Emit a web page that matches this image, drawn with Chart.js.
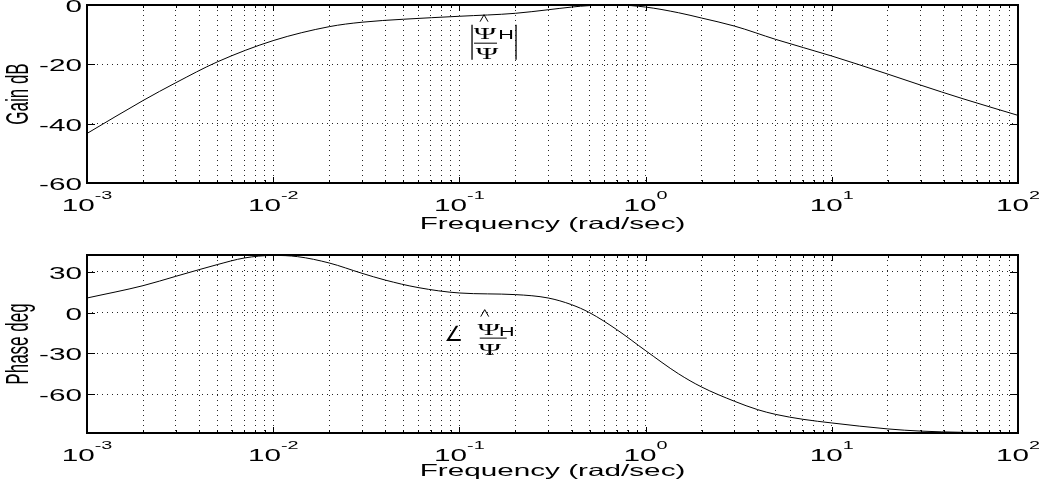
<!DOCTYPE html>
<html>
<head>
<meta charset="utf-8">
<script src="https://cdn.jsdelivr.net/npm/chart.js@4.4.1/dist/chart.umd.min.js"></script>
<style>
    html, body { margin: 0; padding: 0; background: #fff; }
    .plot { position: relative; width: 1042px; height: 243px; }
</style>
</head>
<body>
<div class="plot"><canvas id="gain"></canvas></div>
<div class="plot"><canvas id="phase"></canvas></div>
<script>
// values
var aGainFreq = [0.001, 0.002, 0.003, 0.005, 0.01, 0.02, 0.03, 0.05, 0.1, 0.2, 0.3, 0.4, 0.5, 0.7, 1.0, 1.5, 2, 3, 5, 10, 20, 30, 50, 100];
var aGainDb = [-43.3, -32.2, -26.2, -19.2, -12.0, -7.3, -5.8, -4.8, -3.8, -2.8, -1.6, -0.7, -0.2, 0, -0.7, -2.6, -4.4, -7.1, -11.6, -17.2, -23.3, -27.0, -31.5, -37.2];

var aPhaseFreq = [0.001, 0.002, 0.003, 0.004, 0.005, 0.007, 0.01, 0.0135, 0.02, 0.03, 0.04, 0.06, 0.1, 0.2, 0.3, 0.4, 0.5, 0.7, 1.0, 1.5, 2, 3, 4, 5, 7, 10, 20, 30, 50, 100];
var aPhaseDeg = [10.8, 19.9, 26.8, 31.7, 35.4, 40.3, 42.2, 41.3, 36.6, 29.0, 24.0, 18.5, 14.5, 13.3, 10.8, 5.9, 0, -12.5, -28.0, -45.0, -54.8, -65.3, -71.5, -75.0, -78.6, -81.3, -85.7, -87.3, -88.2, -88.6];

var aGainTicks = [-60, -40, -20, 0];
var aPhaseTicks = [-60, -30, 0, 30];
var aGainRange = [-60, 0];
var aPhaseRange = [-88.7, 42.5];
var aDecades = [-3, -2, -1, 0, 1, 2];
var aMantissas = [1, 2, 3, 4, 5, 6, 7, 8, 9];

var STRETCH = 1.8;
var FONT_SANS = '"Liberation Sans", Arial, sans-serif';
var FONT_SERIF = '"Liberation Serif", "DejaVu Serif", serif';

var oBode = {
    init: function () {
        oBode.drawPlot('gain', aGainFreq, aGainDb, aGainRange, aGainTicks, 5, 60, 'Gain dB', 'gain', 46);
        oBode.drawPlot('phase', aPhaseFreq, aPhaseDeg, aPhaseRange, aPhaseTicks, 12, 53, 'Phase deg', 'phase', 43);
    },

    freqTicks: function () {
        var aTicks = [];
        for (var i = 0; i < aDecades.length; i++) {
            var iMax = (i === aDecades.length - 1) ? 1 : aMantissas.length;
            for (var j = 0; j < iMax; j++) {
                aTicks.push({ value: aMantissas[j] * Math.pow(10, aDecades[i]) });
            }
        }
        return aTicks;
    },

    wideText: function (ctx, sText, x, y, fSize, sAlign, sFamily) {
        ctx.save();
        ctx.translate(x, y);
        ctx.scale(STRETCH, 1);
        ctx.font = fSize + 'px ' + (sFamily || FONT_SANS);
        ctx.textAlign = sAlign || 'left';
        ctx.textBaseline = 'alphabetic';
        ctx.fillStyle = '#000';
        ctx.fillText(sText, 0, 0);
        ctx.restore();
    },

    wideWidth: function (ctx, sText, fSize) {
        ctx.save();
        ctx.font = fSize + 'px ' + FONT_SANS;
        var w = ctx.measureText(sText).width * STRETCH;
        ctx.restore();
        return w;
    },

    line: function (ctx, aPts, fWidth) {
        ctx.beginPath();
        ctx.moveTo(aPts[0][0], aPts[0][1]);
        for (var i = 1; i < aPts.length; i++) {
            ctx.lineTo(aPts[i][0], aPts[i][1]);
        }
        ctx.lineWidth = fWidth || 1;
        ctx.strokeStyle = '#000';
        ctx.stroke();
    },

    // frame, inward ticks, tick labels, titles and the psi annotation
    decorPlugin: {
        id: 'decor',
        afterDraw: function (chart) {
            var ctx = chart.ctx;
            var area = chart.chartArea;
            var xs = chart.scales.x;
            var ys = chart.scales.y;
            var opts = chart.options.plugins.decor;
            var i, px, py;

            ctx.save();
            ctx.lineWidth = 2;
            ctx.strokeStyle = '#000';
            ctx.strokeRect(area.left, area.top, area.right - area.left, area.bottom - area.top);

            for (i = 0; i < xs.ticks.length; i++) {
                var v = xs.ticks[i].value;
                px = Math.round(xs.getPixelForValue(v)) + 0.5;
                var iLen = Math.abs(Math.log10(v) - Math.round(Math.log10(v))) < 1e-6 ? 6 : 3;
                oBode.line(ctx, [[px, area.bottom], [px, area.bottom - iLen]]);
                oBode.line(ctx, [[px, area.top], [px, area.top + iLen]]);
            }
            for (i = 0; i < ys.ticks.length; i++) {
                py = Math.round(ys.getPixelForValue(ys.ticks[i].value)) + 0.5;
                oBode.line(ctx, [[area.left, py], [area.left + 8, py]]);
                oBode.line(ctx, [[area.right, py], [area.right - 8, py]]);
                oBode.wideText(ctx, String(ys.ticks[i].value), area.left - 5, py + 6, 16.5, 'right');
            }

            for (i = 0; i < aDecades.length; i++) {
                px = xs.getPixelForValue(Math.pow(10, aDecades[i]));
                var sExp = String(aDecades[i]);
                var w10 = oBode.wideWidth(ctx, '10', 16.5);
                var wExp = oBode.wideWidth(ctx, sExp, 11);
                var x0 = px - (w10 + wExp) / 2;
                oBode.wideText(ctx, '10', x0, area.bottom + 28, 16.5);
                oBode.wideText(ctx, sExp, x0 + w10, area.bottom + 16, 11);
            }

            oBode.wideText(ctx, 'Frequency (rad/sec)', (area.left + area.right) / 2, area.bottom + opts.titleGap, 16.5, 'center');

            ctx.save();
            ctx.translate(20, (area.top + area.bottom) / 2);
            ctx.scale(STRETCH, 1);
            ctx.rotate(-Math.PI / 2);
            ctx.font = '17px ' + FONT_SANS;
            ctx.textAlign = 'center';
            ctx.textBaseline = 'middle';
            ctx.fillStyle = '#000';
            ctx.fillText(opts.yTitle, 0, 0);
            ctx.restore();

            var ax, ay;
            if (opts.note === 'gain') {
                ax = xs.getPixelForValue(0.139);
                ay = ys.getPixelForValue(-12.7);
                oBode.line(ctx, [[ax - 14, ay - 18], [ax - 14, ay + 17]], 1.3);
                oBode.line(ctx, [[ax + 30, ay - 18], [ax + 30, ay + 17]], 1.3);
                oBode.line(ctx, [[ax - 6, ay - 21], [ax - 2, ay - 28], [ax + 2, ay - 21]], 1);
                oBode.wideText(ctx, '\u03A8', ax - 1, ay - 3.5, 17, 'center', FONT_SERIF);
                oBode.wideText(ctx, 'H', ax + 20, ay - 4, 12, 'center');
                oBode.line(ctx, [[ax - 12, ay + 0.5], [ax + 11, ay + 0.5]], 1);
                oBode.wideText(ctx, '\u03A8', ax + 1, ay + 16, 17, 'center', FONT_SERIF);
            } else {
                ax = xs.getPixelForValue(0.151);
                ay = ys.getPixelForValue(-18.4);
                ctx.font = '21px "DejaVu Sans"';
                ctx.textAlign = 'center';
                ctx.textBaseline = 'alphabetic';
                ctx.fillStyle = '#000';
                ctx.fillText('\u2220', ax - 39, ay + 3);
                oBode.line(ctx, [[ax - 12, ay - 21], [ax - 8, ay - 28], [ax - 4, ay - 21]], 1);
                oBode.wideText(ctx, '\u03A8', ax - 4, ay - 3, 17, 'center', FONT_SERIF);
                oBode.wideText(ctx, 'H', ax + 14, ay - 1.6, 12, 'center');
                oBode.line(ctx, [[ax - 13, ay + 0.5], [ax + 14, ay + 0.5]], 1);
                oBode.wideText(ctx, '\u03A8', ax - 3, ay + 17, 17, 'center', FONT_SERIF);
            }
            ctx.restore();
        }
    },

    drawPlot: function (sId, aFreq, aValues, aRange, aTicks, iTop, iAxisHeight, sTitle, sNote, iTitleGap) {
        var aPoints = [];
        for (var i = 0; i < aFreq.length; i++) {
            aPoints.push({ x: aFreq[i], y: aValues[i] });
        }
        var oCtx = document.getElementById(sId).getContext('2d');
        return new Chart(oCtx, {
            type: 'line',
            data: {
                datasets: [{
                    data: aPoints,
                    borderColor: '#000',
                    borderWidth: 1,
                    pointRadius: 0,
                    cubicInterpolationMode: 'monotone',
                    fill: false
                }]
            },
            plugins: [oBode.decorPlugin],
            options: {
                responsive: true,
                maintainAspectRatio: false,
                animation: false,
                events: [],
                layout: { padding: { left: 0, right: 24, top: iTop, bottom: 0 } },
                plugins: {
                    legend: { display: false },
                    tooltip: { enabled: false },
                    decor: { yTitle: sTitle, note: sNote, titleGap: iTitleGap }
                },
                scales: {
                    x: {
                        type: 'logarithmic',
                        min: 0.001,
                        max: 100,
                        afterBuildTicks: function (scale) { scale.ticks = oBode.freqTicks(); },
                        afterFit: function (scale) { scale.height = iAxisHeight; },
                        ticks: { display: false },
                        grid: { color: 'rgba(0,0,0,0.85)', lineWidth: 1, drawTicks: false },
                        border: { display: false, dash: [1, 4] }
                    },
                    y: {
                        type: 'linear',
                        min: aRange[0],
                        max: aRange[1],
                        afterBuildTicks: function (scale) {
                            scale.ticks = aTicks.map(function (v) { return { value: v }; });
                        },
                        afterFit: function (scale) { scale.width = 87; },
                        ticks: { display: false },
                        grid: { color: 'rgba(0,0,0,0.85)', lineWidth: 1, drawTicks: false },
                        border: { display: false, dash: [1, 4] }
                    }
                }
            }
        });
    }
};

document.addEventListener('DOMContentLoaded', function () {
    oBode.init();
});
</script>
</body>
</html>
